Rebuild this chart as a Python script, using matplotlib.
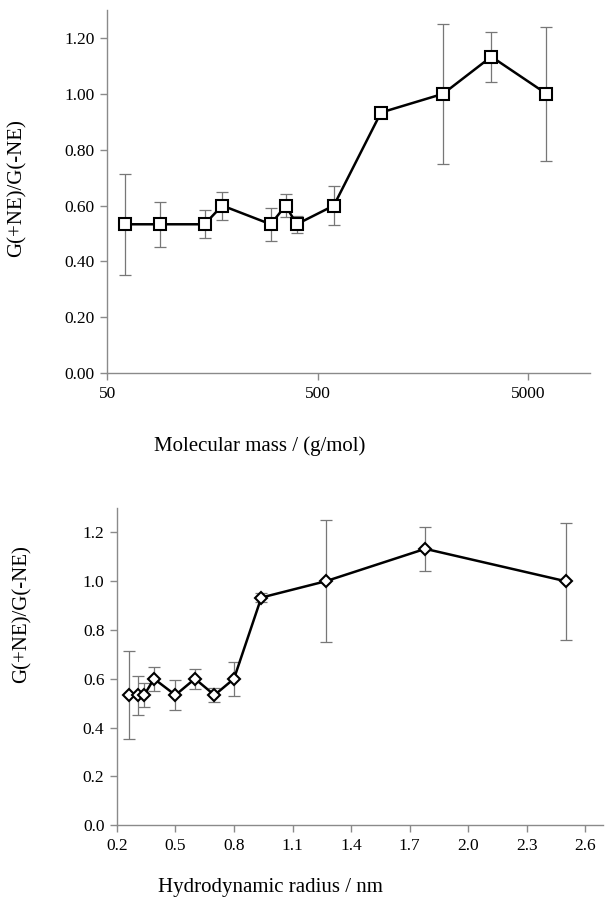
import matplotlib
matplotlib.use("Agg")
import matplotlib.pyplot as plt
from matplotlib.ticker import FixedLocator, NullLocator, FixedFormatter

# data
mol_mass = [61, 89, 145, 176, 299, 352, 397, 596, 998, 1968, 3334, 6093]
radius = [0.26, 0.31, 0.34, 0.39, 0.50, 0.60, 0.70, 0.80, 0.94, 1.27, 1.78, 2.50]
ratio = [0.533, 0.533, 0.533, 0.600, 0.533, 0.600, 0.533, 0.600, 0.933, 1.000, 1.133, 1.000]
ratio_err = [0.18, 0.08, 0.05, 0.05, 0.06, 0.04, 0.03, 0.07, 0.02, 0.25, 0.09, 0.24]

top_yticks = [0.0, 0.2, 0.4, 0.6, 0.8, 1.0, 1.2]
top_ylabels = ["0.00", "0.20", "0.40", "0.60", "0.80", "1.00", "1.20"]
top_xticks = [50, 500, 5000]
bot_yticks = [0.0, 0.2, 0.4, 0.6, 0.8, 1.0, 1.2]
bot_xticks = [0.2, 0.5, 0.8, 1.1, 1.4, 1.7, 2.0, 2.3, 2.6]

plt.rcParams['font.family'] = ['Liberation Serif', 'DejaVu Serif']
axcol = '#8a8a8a'

fig = plt.figure(figsize=(6.12, 9.08), dpi=100)
ax1 = fig.add_axes([0.175, 0.589, 0.789, 0.400])
ax2 = fig.add_axes([0.191, 0.0914, 0.794, 0.349])


def style(ax):
    for s in ['top', 'right']:
        ax.spines[s].set_visible(False)
    for s in ['left', 'bottom']:
        ax.spines[s].set_color(axcol)
        ax.spines[s].set_linewidth(1.0)
    ax.tick_params(direction='out', color=axcol, length=5, width=1.0,
                   labelsize=12.5, labelcolor='black', pad=4)


# top: molecular mass (log scale)
ax1.errorbar(mol_mass, ratio, yerr=ratio_err, fmt='none', ecolor='#777777',
             elinewidth=0.9, capsize=4, capthick=0.9, zorder=2)
ax1.plot(mol_mass, ratio, color='black', lw=1.8, marker='s', markersize=8,
         markerfacecolor='white', markeredgecolor='black', markeredgewidth=1.5, zorder=3)
ax1.set_xscale('log')
ax1.set_xlim(50, 9800)
ax1.set_ylim(0, 1.3)
ax1.xaxis.set_major_locator(FixedLocator(top_xticks))
ax1.xaxis.set_major_formatter(FixedFormatter([str(t) for t in top_xticks]))
ax1.xaxis.set_minor_locator(NullLocator())
ax1.set_yticks(top_yticks)
ax1.set_yticklabels(top_ylabels)
style(ax1)
ax1.set_xlabel('Molecular mass / (g/mol)', fontsize=15)
ax1.xaxis.set_label_coords(0.317, -0.174)
ax1.set_ylabel('G(+NE)/G(-NE)', fontsize=15)
ax1.yaxis.set_label_coords(-0.166, 0.51)

# bottom: hydrodynamic radius
ax2.errorbar(radius, ratio, yerr=ratio_err, fmt='none', ecolor='#777777',
             elinewidth=0.9, capsize=4, capthick=0.9, zorder=2)
ax2.plot(radius, ratio, color='black', lw=1.8, marker='D', markersize=6,
         markerfacecolor='white', markeredgecolor='black', markeredgewidth=1.5, zorder=3)
ax2.set_xlim(0.2, 2.69)
ax2.set_ylim(0, 1.3)
ax2.set_xticks(bot_xticks)
ax2.set_xticklabels([f"{t:.1f}" for t in bot_xticks])
ax2.set_yticks(bot_yticks)
ax2.set_yticklabels([f"{t:.1f}" for t in bot_yticks])
style(ax2)
ax2.set_xlabel('Hydrodynamic radius / nm', fontsize=15)
ax2.xaxis.set_label_coords(0.315, -0.167)
ax2.set_ylabel('G(+NE)/G(-NE)', fontsize=15)
ax2.yaxis.set_label_coords(-0.175, 0.667)

fig.savefig('out.png', dpi=100)
